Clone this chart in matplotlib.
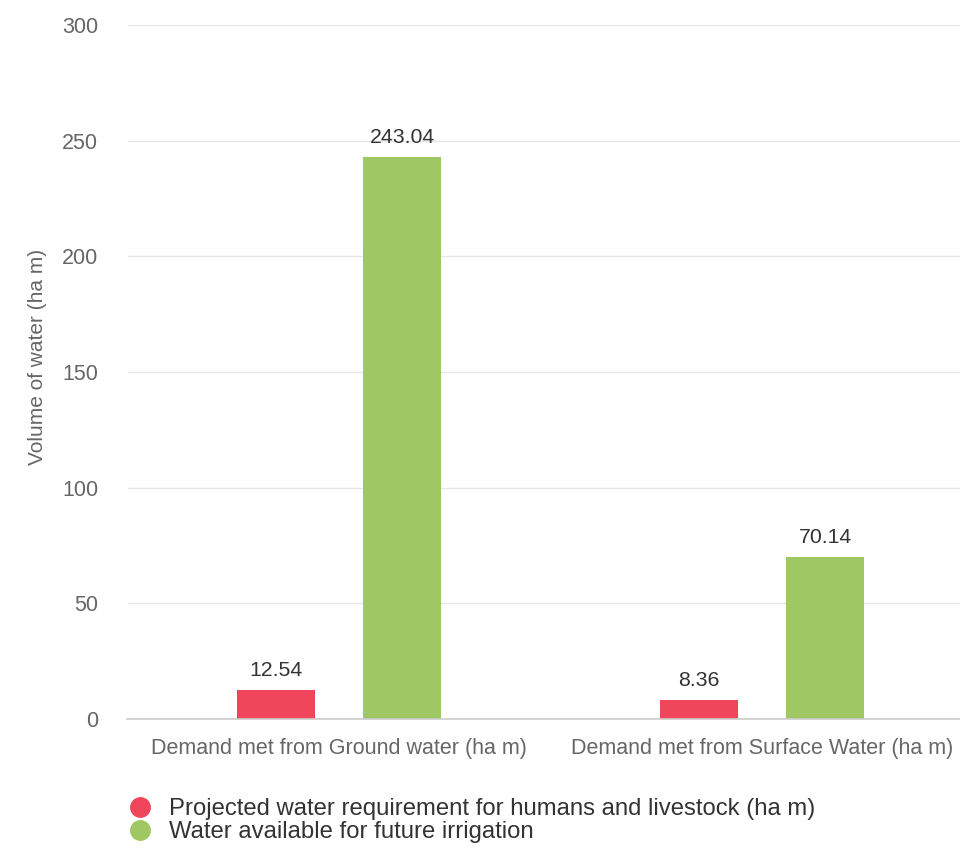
import matplotlib
matplotlib.use("Agg")
import matplotlib.pyplot as plt
from matplotlib.lines import Line2D
import numpy as np

plt.rcParams['font.family'] = ['Liberation Sans', 'DejaVu Sans']

categories = ["Demand met from Ground water (ha m)", "Demand met from Surface Water (ha m)"]
series_names = ["Projected water requirement for humans and livestock (ha m)",
                "Water available for future irrigation"]
human_livestock = [12.54, 8.36]
irrigation = [243.04, 70.14]
y_ticks = [0, 50, 100, 150, 200, 250, 300]
colors = ["#f0465c", "#9fc764"]

fig = plt.figure(figsize=(9.6, 8.5), dpi=100)
ax = fig.add_axes([127.5/960, 1-719/850, 846/960, (719-25)/850])

x = np.arange(len(categories))
w = 0.184
off = 0.149
series = [human_livestock, irrigation]
for i, (vals, c) in enumerate(zip(series, colors)):
    xs = x + (-off if i == 0 else off)
    bars = ax.bar(xs, vals, width=w, color=c, zorder=3)
    for b, v in zip(bars, vals):
        ax.annotate(f"{v:.2f}", (b.get_x() + b.get_width()/2, v),
                    xytext=(0, 7), textcoords="offset points",
                    ha="center", va="bottom", fontsize=15.3, color="#333333")

ax.set_xlim(-0.5, 1.5)
ax.set_ylim(0, 300)
ax.set_yticks(y_ticks)
ax.set_yticklabels([str(t) for t in y_ticks])
ax.set_xticks(x)
ax.set_xticklabels(categories)
ax.tick_params(axis='y', length=0, pad=21, labelsize=15.5, labelcolor="#666666")
ax.tick_params(axis='x', length=0, pad=14, labelsize=15.5, labelcolor="#666666")
ax.grid(axis='y', color="#e6e6e6", linewidth=1, zorder=0)
for s in ["top", "right", "left"]:
    ax.spines[s].set_visible(False)
ax.spines["bottom"].set_color("#cccccc")
ax.spines["bottom"].set_linewidth(1.2)
ax.spines["bottom"].set_zorder(4)
ax.set_ylabel("Volume of water (ha m)", fontsize=15, color="#666666")
ax.yaxis.set_label_coords(-0.0955, 0.5216)

handles = [Line2D([0], [0], marker='o', linestyle='', markersize=14,
                  markerfacecolor=c, markeredgecolor=c) for c in colors]
fig.legend(handles, series_names, loc="upper left", bbox_to_anchor=(126/960, 1-798/850),
           frameon=False, fontsize=17.2, labelcolor="#333333", handletextpad=0.6,
           labelspacing=0.04, borderaxespad=0, borderpad=0, handlelength=1.2)

fig.savefig("out.png", dpi=100)
